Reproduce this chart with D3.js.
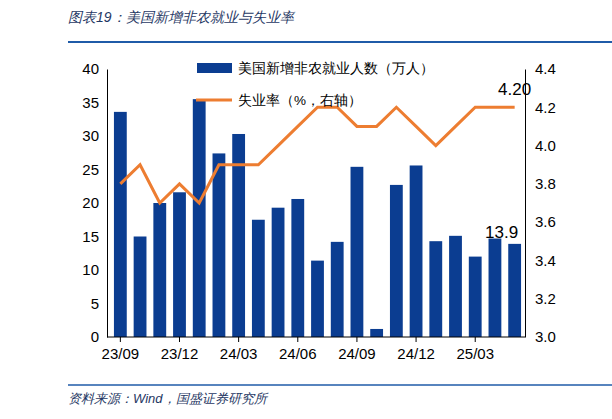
<!DOCTYPE html><html><head><meta charset="utf-8"><script src="https://cdn.jsdelivr.net/npm/d3@7"></script>
<style>body{margin:0;background:#fff}text{font-family:"Liberation Sans",Arial,sans-serif}</style></head><body><svg id="c" width="612" height="419"></svg><script>
const months=["23/09","23/10","23/11","23/12","24/01","24/02","24/03","24/04","24/05","24/06","24/07","24/08","24/09","24/10","24/11","24/12","25/01","25/02","25/03","25/04","25/05"];
const payrolls=[33.6,15.0,20.0,21.6,35.5,27.4,30.3,17.5,19.3,20.6,11.4,14.2,25.4,1.2,22.7,25.6,14.3,15.1,12.0,14.7,13.9];
const unemp=[3.8,3.9,3.7,3.8,3.7,3.9,3.9,3.9,4.0,4.1,4.2,4.2,4.1,4.1,4.2,4.1,4.0,4.1,4.2,4.2,4.2];
const tickMonths=["23/09","23/12","24/03","24/06","24/09","24/12","25/03"];
const leftTicks=[0,5,10,15,20,25,30,35,40];
const rightTicks=[3.0,3.2,3.4,3.6,3.8,4.0,4.2,4.4];
const svg=d3.select("#c");
const L=110,R=525,T=69,B=337;
const x=d3.scaleBand().domain(months).range([L,R]).paddingInner(0.35).paddingOuter(0.2);
const yL=d3.scaleLinear().domain([0,40]).range([B,T]);
const yR=d3.scaleLinear().domain([3.0,4.4]).range([B,T]);
const blue="#0B3D91",orange="#ED7D31";
// title
svg.append("text").attr("x",68).attr("y",22).attr("font-size",14).attr("font-style","italic").attr("fill","#1F3864").attr("font-family","Noto Sans CJK SC").text("图表19：美国新增非农就业与失业率");
svg.append("line").attr("x1",68).attr("x2",612).attr("y1",42).attr("y2",42).attr("stroke","#1F5BA8").attr("stroke-width",2);
svg.append("line").attr("x1",68).attr("x2",612).attr("y1",385).attr("y2",385).attr("stroke","#1F5BA8").attr("stroke-width",1.5);
svg.append("text").attr("x",68).attr("y",403).attr("font-size",13).attr("font-style","italic").attr("fill","#1F3864").attr("font-family","Noto Sans CJK SC").text("资料来源：Wind，国盛证券研究所");
// bars
svg.selectAll(".b").data(payrolls).join("rect").attr("fill",blue)
 .attr("x",(d,i)=>x(months[i])).attr("width",x.bandwidth()).attr("y",d=>yL(d)).attr("height",d=>B-yL(d));
// axes
const ga=svg.append("g").attr("transform",`translate(${L-3},0)`).call(d3.axisLeft(yL).tickValues(leftTicks).tickSize(0).tickPadding(8));
const gr=svg.append("g").attr("transform",`translate(${R},0)`).call(d3.axisRight(yR).tickValues(rightTicks).tickFormat(d3.format(".1f")).tickSize(0).tickPadding(10));
const gb=svg.append("g").attr("transform",`translate(0,${B})`).call(d3.axisBottom(x).tickValues(tickMonths).tickSize(5).tickPadding(6));
[ga,gr,gb].forEach(g=>{g.selectAll("text").attr("font-size",15).attr("fill","#000").attr("font-family","Liberation Sans");g.select(".domain").attr("stroke","#000")});
gb.select(".domain").attr("d",`M${L-3},0H${R}`);
// line
const line=d3.line().x((d,i)=>x(months[i])+x.bandwidth()/2).y(d=>yR(d));
svg.append("path").datum(unemp).attr("d",line).attr("fill","none").attr("stroke",orange).attr("stroke-width",3);
// legend
svg.append("rect").attr("x",197).attr("y",63).attr("width",35).attr("height",10).attr("fill",blue);
svg.append("text").attr("x",238).attr("y",73).attr("font-size",13.5).attr("font-family","Noto Sans CJK SC").text("美国新增非农就业人数（万人）");
svg.append("line").attr("x1",196).attr("x2",232).attr("y1",100).attr("y2",100).attr("stroke",orange).attr("stroke-width",3);
svg.append("text").attr("x",238).attr("y",105).attr("font-size",13.5).attr("font-family","Noto Sans CJK SC").text("失业率（%，右轴）");
// annotations
const li=months.length-1, cx=x(months[li])+x.bandwidth()/2;
svg.append("text").attr("x",cx).attr("y",yR(unemp[li])-12).attr("text-anchor","middle").attr("font-size",17).text(d3.format(".2f")(unemp[li]));
svg.append("text").attr("x",cx-13).attr("y",yL(payrolls[li])-6).attr("text-anchor","middle").attr("font-size",17).text(payrolls[li]);
</script></body></html>
